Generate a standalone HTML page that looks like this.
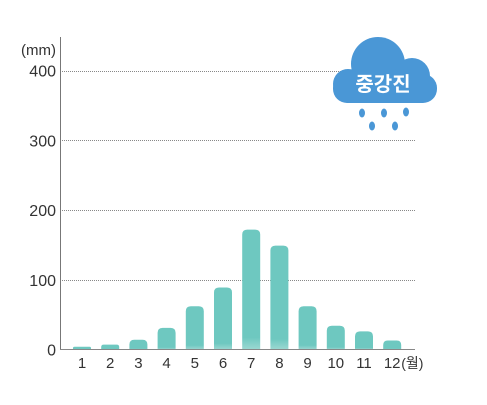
<!DOCTYPE html>
<html><head><meta charset="utf-8">
<style>
body{margin:0;background:#fff;width:487px;height:400px;overflow:hidden}
svg text{font-family:"Liberation Sans","Noto Sans CJK KR",sans-serif}
</style></head><body>
<svg id="chart" width="487" height="400" viewBox="0 0 487 400" xmlns="http://www.w3.org/2000/svg">
<defs>
<linearGradient id="barg" x1="0" y1="0" x2="0" y2="1">
<stop offset="0" stop-color="#6ec8c0"/><stop offset="0.9" stop-color="#6ec8c0"/><stop offset="1" stop-color="#9cd8d2"/>
</linearGradient>
</defs>
<g id="grid"></g>
<g id="bars"></g>
<line x1="60.5" y1="37" x2="60.5" y2="349.5" stroke="#777" stroke-width="1"/>
<line x1="60" y1="349.5" x2="415" y2="349.5" stroke="#888" stroke-width="1"/>
<text x="56" y="55" text-anchor="end" font-size="15" fill="#333">(mm)</text>
<g id="ylabels"></g>
<g id="xlabels"></g>
<g>
<circle cx="378" cy="64" r="27" fill="#4a97d6"/>
<circle cx="412" cy="76" r="18" fill="#4a97d6"/>
<circle cx="348" cy="84" r="15" fill="#4a97d6"/>
<rect x="333" y="74" width="104" height="29" rx="14" fill="#4a97d6"/>
<text x="383" y="91" text-anchor="middle" font-size="20" font-weight="bold" fill="#fff">중강진</text>
<g fill="#4a97d6">
<ellipse cx="362" cy="113" rx="3" ry="4.5"/><ellipse cx="384" cy="113" rx="3" ry="4.5"/><ellipse cx="406" cy="112" rx="3" ry="4.5"/>
<ellipse cx="372" cy="126" rx="3" ry="4.5"/><ellipse cx="395" cy="126" rx="3" ry="4.5"/>
</g>
</g>
</svg>
<script>
const months = ["1","2","3","4","5","6","7","8","9","10","11","12"];
const rainfall = [4, 7, 14, 31, 62, 89, 172, 149, 62, 34, 26, 13];
const yTicks = [0, 100, 200, 300, 400];
const NS = "http://www.w3.org/2000/svg";
const y = v => 349.5 - v * 0.697;
const x = i => 82 + i * 28.2;
const bw = 18;
const grid = document.getElementById('grid');
const yl = document.getElementById('ylabels');
yTicks.forEach(t => {
  if (t > 0) {
    const l = document.createElementNS(NS, 'line');
    
    
    l.setAttribute('x1', 62); l.setAttribute('x2', 415);
    l.setAttribute('y1', Math.round(y(t)) + 0.5); l.setAttribute('y2', Math.round(y(t)) + 0.5);
    l.setAttribute('stroke', '#888'); l.setAttribute('stroke-dasharray', '1,1');
    grid.appendChild(l);
  }
  const tx = document.createElementNS(NS, 'text');
  
  
  tx.setAttribute('x', 56); tx.setAttribute('y', y(t) + 6);
  tx.setAttribute('text-anchor', 'end'); tx.setAttribute('font-size', '16'); tx.setAttribute('fill', '#333');
  tx.textContent = t;
  yl.appendChild(tx);
});
const bars = document.getElementById('bars');
const xl = document.getElementById('xlabels');
rainfall.forEach((v, i) => {
  const top = y(v), h = 349.5 - top, r = Math.min(5, h / 2);
  const p = document.createElementNS(NS, 'path');
  
  
  const x0 = x(i) - bw / 2, x1 = x(i) + bw / 2;
  p.setAttribute('d', `M${x0},349.5 L${x0},${top + r} Q${x0},${top} ${x0 + r},${top} L${x1 - r},${top} Q${x1},${top} ${x1},${top + r} L${x1},349.5 Z`);
  p.setAttribute('fill', 'url(#barg)');
  bars.appendChild(p);
  const tx = document.createElementNS(NS, 'text');
  
  
  tx.setAttribute('x', x(i)); tx.setAttribute('y', 368);
  tx.setAttribute('text-anchor', 'middle'); tx.setAttribute('font-size', '15'); tx.setAttribute('fill', '#333');
  tx.textContent = months[i];
  xl.appendChild(tx);
});
const unit = document.createElementNS(NS, 'text');


unit.setAttribute('x', x(11) + 9); unit.setAttribute('y', 368);
unit.setAttribute('font-size', '14'); unit.setAttribute('fill', '#333');
unit.textContent = '(월)';
xl.appendChild(unit);
</script>
</body></html>
